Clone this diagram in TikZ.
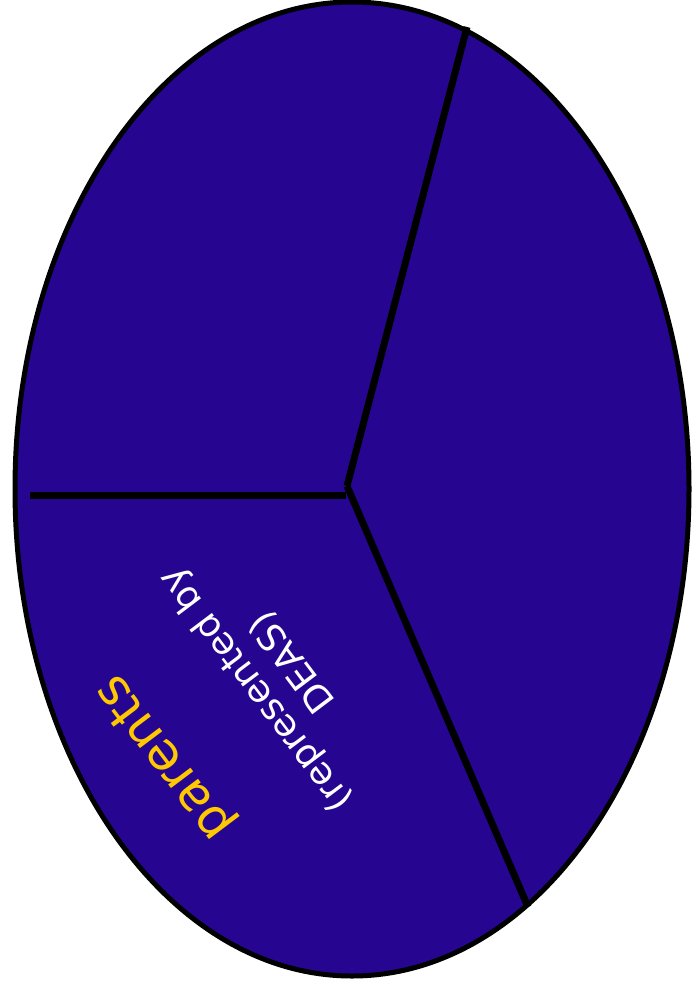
\documentclass[tikz,border=0pt]{standalone}
\usepackage{fontspec}
\setmainfont{DejaVu Sans}
\definecolor{piefill}{RGB}{38,6,145}
\definecolor{pieyellow}{RGB}{255,200,0}
\begin{document}
\begin{tikzpicture}[x=1pt,y=-1pt,
  spoke/.style={line width=7pt},
  lbl/.style={inner sep=0pt, align=center, rotate=127}]
\useasboundingbox (0,0) rectangle (692,994);
\draw[line width=5pt, fill=piefill] (352,489) ellipse [x radius=337, y radius=487];
\coordinate (c) at (347,486);
\coordinate (cl) at (346,495);
\coordinate (l) at (30,495);
\coordinate (t) at (467,27);
\coordinate (b) at (528,907);
\draw[spoke] (l) -- (cl);
\draw[spoke] (c) -- (t);
\draw[spoke] (c) -- (b);
\node[lbl, text=pieyellow, font=\fontsize{51}{60}\selectfont] (parents) at (166,757) {parents};
\node[lbl, text=white, font=\fontsize{37}{46}\selectfont] (rep) at (274,676) {(represented by\\DEAS)};
\end{tikzpicture}
\end{document}
